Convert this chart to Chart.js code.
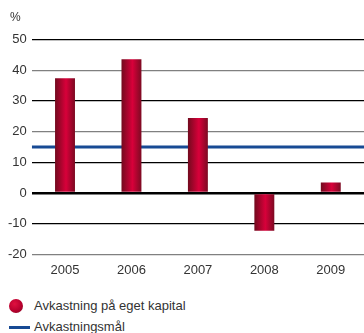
<!DOCTYPE html>
<html>
<head>
<meta charset="utf-8">
<script src="https://cdn.jsdelivr.net/npm/chart.js@4/dist/chart.umd.min.js"></script>
<style>
  html, body { margin: 0; padding: 0; background: #fff; overflow: hidden; }
  #wrap { position: relative; width: 364px; height: 333px; font-family: "Liberation Sans", Arial, sans-serif; color: #333; }
  #chartBox { position: absolute; left: 0; top: 0; width: 364px; height: 290px; }
  .unit { position: absolute; left: 10px; top: 10px; font-size: 12px; }
  .lg { position: absolute; left: 0; font-size: 13px; white-space: nowrap; }
  .lg .txt { position: absolute; left: 34px; }
  .dot { position: absolute; left: 9px; width: 14px; height: 14px; border-radius: 50%;
         background: radial-gradient(circle at 40% 35%, #e0103f 0%, #b8002e 55%, #7a0a20 100%); }
  .bar { position: absolute; left: 9px; width: 21px; height: 3px; background: #174a94; }
</style>
</head>
<body>
<div id="wrap">
  <div id="chartBox"><canvas id="roeChart"></canvas></div>
  <div class="unit">%</div>
  <div class="lg" style="top:298px;"><span class="dot" style="top:1px;"></span><span class="txt">Avkastning på eget kapital</span></div>
  <div class="lg" style="top:319px;"><span class="bar" style="top:7px;"></span><span class="txt">Avkastningsmål</span></div>
</div>
<script>
"use strict";

// Дані графіка
const years = ['2005', '2006', '2007', '2008', '2009'];
const roeValues = [37.4, 43.6, 24.4, -12.3, 3.4];
const targetValue = 15;
const yTicks = [-20, -10, 0, 10, 20, 30, 40, 50];

const FONT = '"Liberation Sans", Arial, sans-serif';

// Горизонтальний градієнт для кожного стовпця
function barGradient(context) {
    const chart = context.chart;
    const xScale = chart.scales.x;
    if (!xScale || !chart.chartArea) return '#c8002f';
    const cx = xScale.getPixelForValue(context.dataIndex);
    const half = (xScale.width / years.length) * 0.3 / 2;
    const g = chart.ctx.createLinearGradient(cx - half, 0, cx + half, 0);
    g.addColorStop(0, '#720a1e');
    g.addColorStop(0.55, '#d8003a');
    g.addColorStop(1, '#7c0a22');
    return g;
}

new Chart(document.getElementById('roeChart'), {
    type: 'bar',
    data: {
        labels: years,
        datasets: [{
            type: 'bar',
            label: 'Avkastning på eget kapital',
            data: roeValues,
            backgroundColor: barGradient,
            borderWidth: 0,
            grouped: false,
            categoryPercentage: 1,
            barPercentage: 0.3,
            order: 1
        }, {
            type: 'line',
            label: 'Avkastningsmål',
            xAxisID: 'x2',
            data: [{ x: 0, y: targetValue }, { x: 1, y: targetValue }],
            borderColor: '#174a94',
            borderWidth: 3,
            pointRadius: 0,
            fill: false,
            order: 2
        }]
    },
    options: {
        responsive: true,
        maintainAspectRatio: false,
        animation: false,
        layout: { padding: { top: 39.5, left: 3, right: 0, bottom: 4 } },
        scales: {
            x: {
                grid: { display: false, drawTicks: false },
                border: { display: false },
                ticks: { color: '#333', font: { family: FONT, size: 13 }, padding: 8 }
            },
            x2: {
                type: 'linear',
                display: false,
                offset: false,
                min: 0,
                max: 1
            },
            y: {
                min: -20,
                max: 50,
                afterBuildTicks: function(axis) {
                    axis.ticks = yTicks.map(v => ({ value: v }));
                },
                grid: {
                    drawTicks: false,
                    color: function(ctx) {
                        const v = ctx.tick && ctx.tick.value;
                        return (v === 40 || v === 20 || v === -20) ? '#808080' : '#000';
                    },
                    lineWidth: function(ctx) {
                        return ctx.tick && ctx.tick.value === 0 ? 2.5 : 1.2;
                    }
                },
                border: { display: false },
                ticks: { color: '#333', font: { family: FONT, size: 13 }, padding: 5 }
            }
        },
        plugins: {
            legend: { display: false },
            tooltip: { enabled: false }
        }
    }
});
</script>
</body>
</html>
